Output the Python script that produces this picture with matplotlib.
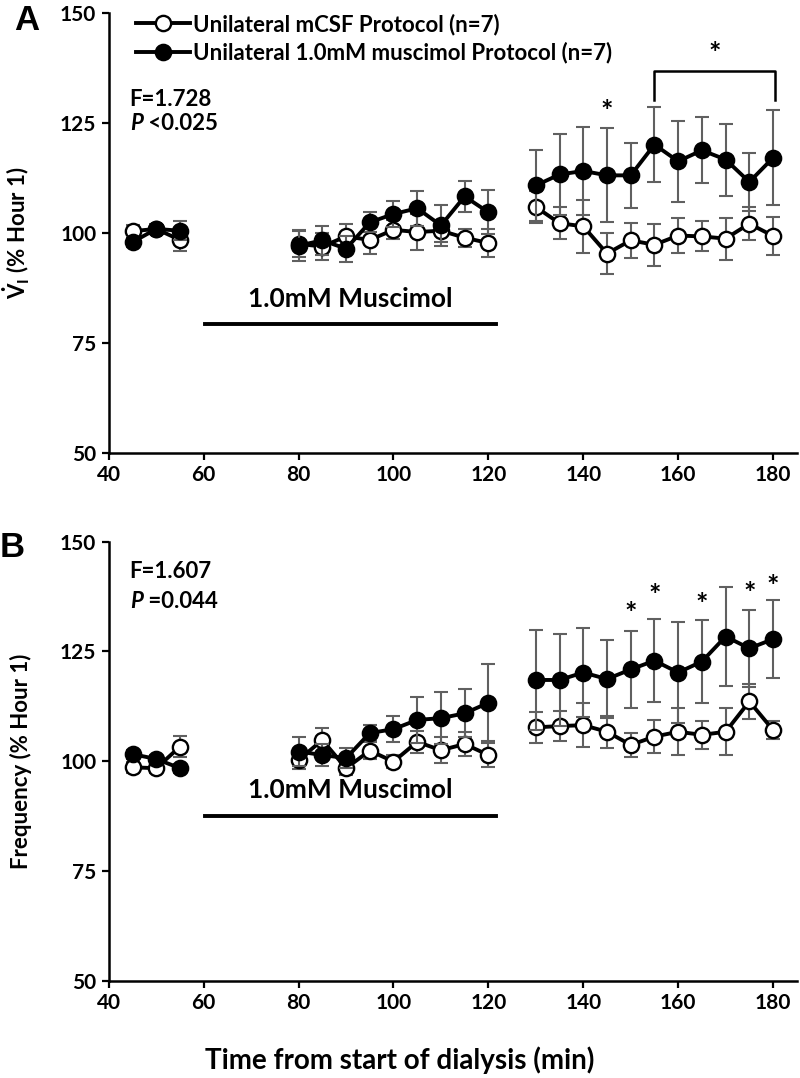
import matplotlib
matplotlib.use("Agg")
import matplotlib.pyplot as plt
import numpy as np

plt.rcParams["font.family"] = ["Lato", "DejaVu Sans"]
plt.rcParams["font.weight"] = "bold"
plt.rcParams["mathtext.fontset"] = "custom"
plt.rcParams["mathtext.rm"] = "Lato:bold"
plt.rcParams["mathtext.bf"] = "Lato:bold"
plt.rcParams["mathtext.it"] = "Lato:bold:italic"

# time points (min)
time = [45, 50, 55, 80, 85, 90, 95, 100, 105, 110, 115, 120,
        130, 135, 140, 145, 150, 155, 160, 165, 170, 175, 180]

# panel A: VI (% hour 1)
vi_csf = [100.4, 100.9, 98.4, 97.5, 96.9, 99.2, 98.4, 100.7, 100.2, 100.5, 98.9, 97.7,
          105.9, 102.2, 101.5, 95.3, 98.3, 97.3, 99.4, 99.2, 98.7, 102.1, 99.3]
vi_csf_err = [1.5, 1.2, 2.5, 3.0, 3.0, 2.8, 3.1, 2.2, 4.2, 2.5, 2.0, 3.2,
              3.6, 3.7, 6.0, 4.7, 4.0, 4.8, 4.0, 3.4, 4.8, 3.8, 4.4]
vi_mus = [97.9, 100.9, 100.5, 97.1, 98.3, 96.4, 102.4, 104.3, 105.6, 101.7, 108.3, 104.7,
          110.8, 113.3, 114.1, 113.1, 113.1, 120.1, 116.3, 118.8, 116.7, 111.6, 117.1]
vi_mus_err = [1.2, 1.0, 2.1, 3.5, 3.3, 3.0, 2.3, 3.0, 4.0, 4.6, 3.5, 5.0,
              8.0, 9.2, 10.1, 10.7, 7.4, 8.5, 9.2, 7.5, 8.2, 6.6, 10.8]

# panel B: frequency (% hour 1)
fr_csf = [98.6, 98.4, 103.3, 100.3, 104.8, 98.4, 102.4, 99.9, 104.4, 102.5, 103.9, 101.4,
          107.7, 108.0, 108.2, 106.7, 103.7, 105.6, 106.7, 106.0, 106.7, 113.6, 107.1]
fr_csf_err = [1.2, 1.2, 2.4, 2.0, 2.7, 1.5, 2.0, 1.5, 2.5, 3.0, 2.7, 2.8,
              3.5, 3.5, 5.0, 3.6, 2.7, 3.8, 5.4, 3.2, 5.4, 4.0, 2.0]
fr_mus = [101.6, 100.5, 98.4, 102.2, 101.4, 100.7, 106.4, 107.3, 109.4, 109.8, 110.9, 113.3,
          118.5, 118.5, 120.2, 118.7, 120.9, 122.9, 120.2, 122.7, 128.4, 125.7, 127.8]
fr_mus_err = [1.0, 1.0, 1.0, 3.4, 2.4, 2.2, 1.8, 3.0, 5.2, 6.0, 5.5, 8.8,
              11.4, 10.4, 10.1, 8.9, 8.8, 9.4, 11.6, 9.5, 11.2, 8.7, 8.9]

# significance marks
a_star_x, a_star_y = [145], [127.5]
a_bracket_x = [155, 180.5]
a_bracket_y = [130.2, 136.9]
b_star_x = [150, 155, 165, 175, 180]
b_star_y = [133.6, 137.6, 135.5, 138.0, 139.6]

drug_span = [60.3, 121.6]

ERR_COLOR = "#606060"


def segments(x, y):
    x = np.asarray(x, float)
    y = np.asarray(y, float)
    cuts = np.where(np.diff(x) > 5)[0] + 1
    return zip(np.split(x, cuts), np.split(y, cuts))


def draw_series(ax, y, err, filled, z):
    ax.errorbar(time, y, yerr=err, fmt="none", ecolor=ERR_COLOR, elinewidth=1.5,
                capsize=5, capthick=1.5, zorder=z)
    line = None
    for xs, ys in segments(time, y):
        line, = ax.plot(xs, ys, color="black", lw=2.8, marker="o", ms=11,
                        mec="black", mew=1.7,
                        mfc="black" if filled else "white", zorder=z + 1)
    return line


def style_axis(ax, ylabel):
    ax.set_xlim(40, 185)
    ax.set_ylim(50, 150)
    ax.set_xticks(range(40, 181, 20))
    ax.set_yticks(range(50, 151, 25))
    for s in ("top", "right"):
        ax.spines[s].set_visible(False)
    for s in ("left", "bottom"):
        ax.spines[s].set_linewidth(1.8)
    ax.tick_params(direction="out", length=5, width=1.6, labelsize=15, pad=4)
    for lab in ax.get_xticklabels() + ax.get_yticklabels():
        lab.set_fontweight("bold")
    ax.set_ylabel(ylabel, fontsize=16, fontweight="bold")
    ax.yaxis.set_label_coords(-0.112, 0.5)


def drug_bar(ax, y_bar, y_text):
    ax.plot(drug_span, [y_bar, y_bar], color="black", lw=2.8)
    ax.text(sum(drug_span) / 2, y_text, "1.0mM Muscimol", ha="center", va="center",
            fontsize=19, fontweight="bold")


def stats_text(ax, f_text, p_text, y_f, y_p):
    ax.text(44.4, y_f, f_text, fontsize=16, fontweight="bold", va="center")
    t = ax.text(44.4, y_p, "P", fontsize=16, fontweight="bold", style="italic", va="center")
    ax.annotate(p_text, xy=(1, 0.5), xycoords=t, va="center", fontsize=16,
                fontweight="bold")


fig = plt.figure(figsize=(8, 10.78), dpi=100)
ax_a = fig.add_axes([0.136, 0.5802, 0.86, 0.4075])
ax_b = fig.add_axes([0.136, 0.0903, 0.86, 0.4072])

# panel A
h_csf = draw_series(ax_a, vi_csf, vi_csf_err, False, 2)
h_mus = draw_series(ax_a, vi_mus, vi_mus_err, True, 4)
style_axis(ax_a, r"$\dot{\mathrm{V}}_{\mathrm{I}}$ (% Hour 1)")
drug_bar(ax_a, 79.3, 85.0)
stats_text(ax_a, "F=1.728", " <0.025", 130.3, 125.0)
for x, y in zip(a_star_x, a_star_y):
    ax_a.text(x, y, "*", ha="center", va="center", fontsize=21, fontweight="bold")
ax_a.plot([a_bracket_x[0], a_bracket_x[0], a_bracket_x[1], a_bracket_x[1]],
          [a_bracket_y[0], a_bracket_y[1], a_bracket_y[1], a_bracket_y[0]],
          color="black", lw=1.8)
ax_a.text(sum(a_bracket_x) / 2, 140.8, "*", ha="center", va="center", fontsize=21,
          fontweight="bold")
ax_a.legend([h_csf, h_mus],
            ["Unilateral mCSF Protocol (n=7)", "Unilateral 1.0mM muscimol Protocol (n=7)"],
            loc="upper left", bbox_to_anchor=(0.04, 1.0), frameon=False,
            handlelength=2.4, handletextpad=0.15, labelspacing=0.3,
            borderpad=0, borderaxespad=0, prop={"weight": "bold", "size": 16})

# panel B
draw_series(ax_b, fr_csf, fr_csf_err, False, 2)
draw_series(ax_b, fr_mus, fr_mus_err, True, 4)
style_axis(ax_b, "Frequency (% Hour 1)")
drug_bar(ax_b, 87.5, 93.4)
stats_text(ax_b, "F=1.607", " =0.044", 143.2, 136.3)
for x, y in zip(b_star_x, b_star_y):
    ax_b.text(x, y, "*", ha="center", va="center", fontsize=21, fontweight="bold")

fig.text(0.018, 0.981, "A", fontsize=25, fontweight="bold", ha="left", va="center",
         family="Liberation Sans")
fig.text(0.0, 0.4925, "B", fontsize=25, fontweight="bold", ha="left", va="center",
         family="Liberation Sans")
fig.text(0.5, 1 - 1060 / 1078, "Time from start of dialysis (min)", ha="center",
         va="center", fontsize=20, fontweight="bold")

fig.savefig("out.png", dpi=100)
